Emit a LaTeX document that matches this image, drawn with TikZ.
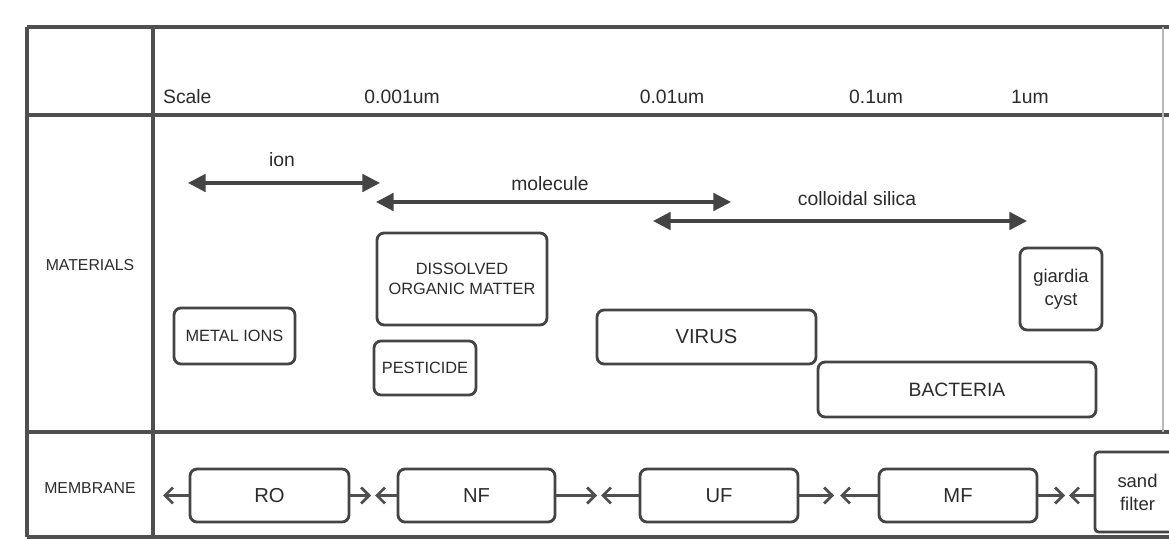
\documentclass[tikz,border=0pt]{standalone}
\usepackage{fontspec}
\setmainfont{Liberation Sans}
\usetikzlibrary{arrows.meta}

\definecolor{gridgray}{HTML}{4F4F4F}
\definecolor{boxgray}{HTML}{444444}
\definecolor{txtgray}{HTML}{2B2B2B}

\begin{document}
\begin{tikzpicture}[x=0.02cm,y=-0.02cm,
    tbl/.style={line width=2pt,draw=gridgray},
    lbl/.style={text=txtgray,font=\fontsize{11}{13}\selectfont,inner sep=1pt},
    rowlbl/.style={text=txtgray,font=\fontsize{9}{11}\selectfont,inner sep=1pt},
    mat/.style={draw=boxgray,line width=1.6pt,rounded corners=4pt,inner sep=0pt,
      text=txtgray,align=center,font=\fontsize{9.3}{11.5}\selectfont},
    mem/.style={mat,minimum height=1.06cm,font=\fontsize{11.5}{13}\selectfont},
    span/.style={{Triangle[length=10pt,width=10pt]}-{Triangle[length=10pt,width=10pt]},
      line width=1.8pt,draw=boxgray},
    pass/.style={-{Straight Barb[length=4.5pt,width=9pt,line width=1.6pt]},
      line width=2pt,draw=gridgray}]
	  \useasboundingbox (0,0) rectangle (1169,540);
	  \clip (0,0) rectangle (1169,540);
	  % table
	  \draw[tbl] (27,27) -- (1169,27);
	  \draw[tbl] (27,115) -- (1169,115);
	  \draw[tbl] (27,432) -- (1169,432);
	  \draw[tbl] (27,537) -- (1169,537);
	  \draw[tbl] (27,27) -- (27,537);
	  \draw[tbl] (153,27) -- (153,537);
	  \draw[draw=gridgray!40,line width=0.8pt] (1163,27) -- (1163,432);
	  % scale
	  \node[lbl,anchor=west] (scale) at (161,97) {Scale};
	  \node[lbl] (s1) at (402,97) {0.001um};
	  \node[lbl] (s2) at (672,97) {0.01um};
	  \node[lbl] (s3) at (876,97) {0.1um};
	  \node[lbl] (s4) at (1030,97) {1um};
	  \node[rowlbl] (materials) at (90,265) {MATERIALS};
	  \node[rowlbl] (membrane) at (90,488) {MEMBRANE};
	  % size ranges
	  \coordinate (ion-l) at (188,183);
	  \coordinate (ion-r) at (380,183);
	  \coordinate (mol-l) at (376,202);
	  \coordinate (mol-r) at (731,202);
	  \coordinate (col-l) at (653,221);
	  \coordinate (col-r) at (1027,221);
	  \draw[span] (ion-l) -- (ion-r);
	  \draw[span] (mol-l) -- (mol-r);
	  \draw[span] (col-l) -- (col-r);
	  \node[lbl] (ion) at (282,160) {ion};
	  \node[lbl] (mol) at (550,184) {molecule};
	  \node[lbl] (col) at (857,199) {colloidal silica};
	  % materials
	  \node[mat,minimum width=2.42cm,minimum height=1.12cm] (metal) at (234.5,336) {METAL IONS};
	  \node[mat,minimum width=3.4cm,minimum height=1.84cm] (dom) at (462,279) {DISSOLVED\\ORGANIC MATTER};
	  \node[mat,minimum width=2.04cm,minimum height=1.08cm] (pest) at (425,368) {PESTICIDE};
	  \node[mat,minimum width=4.38cm,minimum height=1.08cm,font=\fontsize{11.5}{13}\selectfont] (virus) at (706.5,337) {VIRUS};
	  \node[mat,minimum width=5.56cm,minimum height=1.1cm,font=\fontsize{11}{13}\selectfont] (bact) at (957,389.5) {BACTERIA};
	  \node[mat,minimum width=1.64cm,minimum height=1.64cm,font=\fontsize{10.5}{13}\selectfont] (giardia) at (1061,289) {giardia\\cyst};
	  % membranes
	  \node[mem,minimum width=3.18cm] (ro) at (269.5,495.5) {RO};
	  \node[mem,minimum width=3.14cm] (nf) at (476.5,495.5) {NF};
	  \node[mem,minimum width=3.16cm] (uf) at (719,495.5) {UF};
	  \node[mem,minimum width=3.16cm] (mf) at (958,495.5) {MF};
	  \node[mat,rounded corners=2pt,minimum width=1.7cm,minimum height=1.6cm,font=\fontsize{10.5}{13}\selectfont] (sand) at (1137.5,492) {sand\\filter};
	  \coordinate (t0) at (163,495.5);
	  \coordinate (t1) at (371,495.5);
	  \coordinate (t2) at (375,495.5);
	  \coordinate (t3) at (597,495.5);
	  \coordinate (t4) at (601,495.5);
	  \coordinate (t5) at (834,495.5);
	  \coordinate (t6) at (840,495.5);
	  \coordinate (t7) at (1065,495.5);
	  \coordinate (t8) at (1069,495.5);
	  \draw[pass] (ro) -- (t0);
	  \draw[pass] (ro) -- (t1);
	  \draw[pass] (nf) -- (t2);
	  \draw[pass] (nf) -- (t3);
	  \draw[pass] (uf) -- (t4);
	  \draw[pass] (uf) -- (t5);
	  \draw[pass] (mf) -- (t6);
	  \draw[pass] (mf) -- (t7);
	  \draw[pass] (sand.west |- t8) -- (t8);
\end{tikzpicture}
\end{document}
